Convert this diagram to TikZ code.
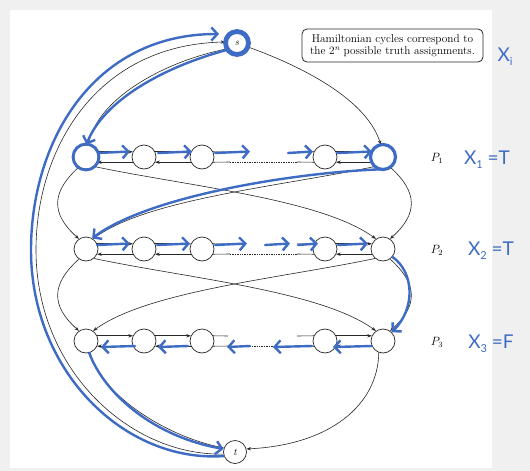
\documentclass[tikz,border=0pt]{standalone}
\usepackage{fontspec}
\usetikzlibrary{arrows.meta}
\newfontfamily\handfont{Lato}
\definecolor{bggray}{RGB}{240,240,240}
\definecolor{inkblue}{RGB}{62,108,196}
\definecolor{ink}{RGB}{40,40,40}
\newcommand{\hsub}[1]{\raisebox{-4pt}{\fontsize{11}{11}\selectfont #1}}
\begin{document}
\begin{tikzpicture}[x=1pt,y=-1pt,
  vtx/.style={circle, draw=ink, line width=0.7pt, fill=white, minimum size=24pt, inner sep=0pt},
  term/.style={vtx, minimum size=23pt, font=\itshape\fontsize{10}{10}\selectfont},
  edge/.style={draw=ink, line width=0.6pt, -{Stealth[length=4.5pt,width=3.4pt]}},
  plain/.style={draw=ink, line width=0.6pt},
  dots/.style={draw=ink, line width=0.8pt, dash pattern=on 0.8pt off 0.9pt},
  hand/.style={draw=inkblue, line width=2.4pt, line cap=round, line join=round},
  handarrow/.style={hand, -{Straight Barb[length=6pt,width=13pt]}},
  handtxt/.style={text=inkblue, font=\handfont\fontsize{19}{19}\selectfont, inner sep=0pt},
  lbl/.style={font=\fontsize{11.5}{11.5}\selectfont, inner sep=0pt},
  note/.style={draw=ink, line width=0.8pt, rounded corners=5pt, align=center, minimum width=181pt, minimum height=33pt, inner sep=2pt, font=\fontsize{11.3}{12.5}\selectfont}
]
\useasboundingbox (0,0) rectangle (530,471);
\fill[bggray] (0,0) rectangle (530,471);
\fill[white] (10,10) rectangle (492,468);

% terminals
\node[term] (s) at (237,43) {s};
\node[term] (t) at (235,452) {t};
\node[note] (box) at (392.5,45.5) {Hamiltonian cycles correspond to\\the 2\textsuperscript{\itshape n} possible truth assignments.};

% rows
\foreach \k/\y in {1/157,2/249,3/341}{
  \node[vtx] (p\k a) at (86,\y) {};
  \node[vtx] (p\k b) at (144,\y) {};
  \node[vtx] (p\k c) at (202,\y) {};
  \node[vtx] (p\k d) at (325,\y) {};
  \node[vtx] (p\k e) at (383,\y) {};
  \coordinate (uL\k) at (228,\y-5);
  \coordinate (uR\k) at (297,\y-5);
  \coordinate (lL\k) at (230,\y+5);
  \coordinate (lR\k) at (297,\y+5);
  \node[lbl] (lab\k) at (437,\y+1) {$P_{\k}$};
  \draw[edge] (p\k a.25) -- (p\k b.155);
  \draw[edge] (p\k b.25) -- (p\k c.155);
  \draw[plain] (p\k c.25) -- (uL\k);
  \draw[plain] (uR\k) -- (p\k d.155);
  \draw[edge] (p\k d.25) -- (p\k e.155);
  \draw[edge] (p\k e.205) -- (p\k d.335);
  \draw[plain] (p\k d.205) -- (lR\k);
  \draw[dots] (lR\k) -- (lL\k);
  \draw[plain] (lL\k) -- (p\k c.335);
  \draw[edge] (p\k c.205) -- (p\k b.335);
  \draw[edge] (p\k b.205) -- (p\k a.335);
}

% between rows
\foreach \k/\n in {1/2,2/3}{
  \draw[edge] (p\k a.235) .. controls +(-28,25) and +(-28,-25) .. (p\n a.125);
  \draw[edge] (p\k e.305) .. controls +(28,25) and +(28,-25) .. (p\n e.55);
  \draw[edge] (p\k a.310) .. controls +(95,20) and +(-55,-40) .. (p\n e.125);
  \draw[edge] (p\k e.230) .. controls +(-95,20) and +(55,-40) .. (p\n a.55);
}

% s and t edges
\coordinate (outerL) at (36,250);
\draw[edge] (s.340) .. controls (290,62) and (365,95) .. (p1e.100);
\draw[edge] (s.210) .. controls (170,60) and (100,95) .. (p1a.80);
\draw[edge] (t.190) .. controls (130,456) and (36,370) .. (outerL) .. controls (36,150) and (95,45) .. (s.175);
\draw[edge] (p3a.290) .. controls (98,390) and (160,435) .. (t.160);
\draw[edge] (p3e.250) .. controls (378,405) and (330,445) .. (t.15);

% ---- blue annotations ----
\draw[hand, line width=4.8pt] (s.center) circle[radius=11.5];
\draw[hand, line width=2.8pt] (p1a.center) circle[radius=13];
\draw[hand, line width=3.2pt] (p1e.center) circle[radius=12.5];

\coordinate (bOuterL) at (31,250);
\coordinate (bTip) at (219,34);
\draw[handarrow] (t.200) .. controls (125,463) and (31,372) .. (bOuterL) .. controls (31,143) and (92,34) .. (bTip);
\draw[handarrow] (s.215) .. controls (160,68) and (103,102) .. (p1a.88);

\foreach \a/\b in {98/130,158/192,215/250,288/313,337/372}{
  \coordinate (q1s\a) at (\a,153);
  \coordinate (q1e\a) at (\b,151.5);
  \draw[handarrow] (q1s\a) -- (q1e\a);
}
\foreach \a/\b in {97/130,157/190,215/247,265/290,298/318,338/368}{
  \coordinate (q2s\a) at (\a,245);
  \coordinate (q2e\a) at (\b,243.5);
  \draw[handarrow] (q2s\a) -- (q2e\a);
}
\foreach \a/\b in {135/101,188/158,250/227,312/273,372/333}{
  \coordinate (q3s\a) at (\a,346);
  \coordinate (q3e\a) at (\b,347);
  \draw[handarrow] (q3s\a) -- (q3e\a);
}

\draw[handarrow] (p1e.265) .. controls (300,172) and (150,195) .. (p2a.60);
\draw[handarrow] (p2e.320) .. controls (414,272) and (416,308) .. (p3e.45);
\draw[handarrow] (p3a.285) .. controls (105,395) and (155,437) .. (t.165);

\node[handtxt] (xi) at (505,57) {X\hsub{i}};
\node[handtxt] (x1) at (487,160) {X\hsub{1} =T};
\node[handtxt] (x2) at (491,251) {X\hsub{2} =T};
\node[handtxt] (x3) at (491,344) {X\hsub{3} =F};
\end{tikzpicture}
\end{document}
